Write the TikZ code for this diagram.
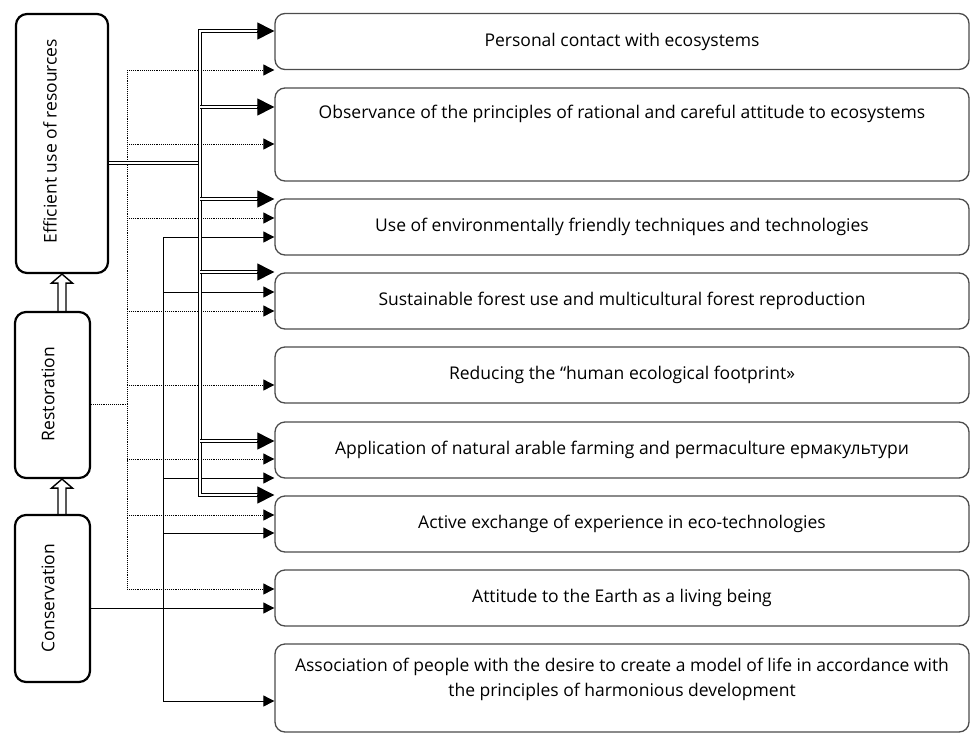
\documentclass[tikz,border=0pt]{standalone}
\usepackage{fontspec}
\setmainfont{Open Sans}
\usetikzlibrary{positioning, arrows.meta, calc}

\begin{document}
\begin{tikzpicture}[x=1pt, y=-1pt, font=\fontsize{17.5}{25}\selectfont,
  stage/.style={draw=black, line width=2.2pt, rounded corners=11pt, inner sep=0pt},
  item/.style={draw=black!70, line width=1.3pt, rounded corners=10pt, minimum width=694pt,
    minimum height=56pt, inner sep=0pt, align=center},
  dbl/.style={draw=black, double=white, double distance=2.4pt, line width=1pt},
  bigtip/.style={line width=1pt, -{Triangle[length=17pt, width=17pt]}},
  hollow/.style={line width=1.4pt, line join=miter, to path={
    ($(\tikztostart)+(-4,0)$) -- ($(\tikztotarget)+(-4,9)$) -- ($(\tikztotarget)+(-10.5,9)$)
    -- (\tikztotarget) -- ($(\tikztotarget)+(10.5,9)$) -- ($(\tikztotarget)+(4,9)$)
    -- ($(\tikztostart)+(4,0)$)}},
  dotarrow/.style={densely dotted, line width=0.9pt, -{Triangle[length=11pt, width=11pt]}},
  solidarrow/.style={line width=0.9pt, -{Triangle[length=11pt, width=11pt]}}]

\useasboundingbox (0,0) rectangle (972,734);

% left column: stages
\node[stage, minimum width=92pt, minimum height=259pt] (eff) at (62,143.5) {};
\node[rotate=90] (efftext) at (50,141) {Efficient use of resources};
\node[stage, minimum width=75pt, minimum height=166pt] (rest) at (52.5,395) {};
\node[rotate=90] (resttext) at (48,394) {Restoration};
\node[stage, minimum width=75pt, minimum height=167pt] (cons) at (52.5,598.5) {};
\node[rotate=90] (constext) at (48,598) {Conservation};

\draw[hollow] (eff.south |- rest.north) to (eff.south);
\draw[hollow] (eff.south |- cons.north) to (eff.south |- rest.south);

% right column: measures
\node[item] (b1) at (622,41.5) {Personal contact with ecosystems};
\node[item, minimum height=93pt] (b2) at (622,134.5) {};
\node (b2text) at (622,114)
  {Observance of the principles of rational and careful attitude to ecosystems};
\node[item] (b3) at (622,227) {Use of environmentally friendly techniques and technologies};
\node[item] (b4) at (622,301) {Sustainable forest use and multicultural forest reproduction};
\node[item] (b5) at (622,375) {Reducing the “human ecological footprint»};
\node[item] (b6) at (622,450) {Application of natural arable farming and permaculture ермакультури};
\node[item] (b7) at (622,524) {Active exchange of experience in eco-technologies};
\node[item] (b8) at (622,598) {Attitude to the Earth as a living being};
\node[item, minimum height=88pt] (b9) at (622,688) {};
\node[align=center] (b9text) at (622,679.5)
  {Association of people with the desire to create a model of life in accordance with\\
   the principles of harmonious development};

% bus lines
\coordinate (pbus) at (127,0);
\coordinate (sbus) at (163,0);
\coordinate (dbus) at (200,0);

% dotted: restoration
\coordinate (p1) at ($(b1.west)+(0,28.5)$);
\coordinate (p8) at ($(b8.west)+(0,-9)$);
\draw[densely dotted, line width=0.9pt] ($(rest.east)+(0,9)$) -- (pbus |- {$(rest.east)+(0,9)$});
\draw[densely dotted, line width=0.9pt] (pbus |- p1) -- (pbus |- p8);
\foreach \b/\dy in {b1/28.5, b2/9.5, b3/-9, b4/10, b5/10, b6/9, b7/-9, b8/-9}{
  \coordinate (p) at ($(\b.west)+(0,\dy)$);
  \draw[dotarrow] (pbus |- p) -- (p);
}

% solid: conservation
\draw[solidarrow] ($(cons.east)+(0,9.5)$) -- ($(b8.west)+(0,10)$);
\coordinate (s3) at ($(b3.west)+(0,10)$);
\coordinate (s9) at ($(b9.west)+(0,13)$);
\draw[solidarrow] (sbus |- s3) -- (s3);
\draw[solidarrow] (sbus |- s3) -- (sbus |- s9) -- (s9);
\foreach \b/\dy in {b4/-9, b6/28, b7/9}{
  \coordinate (s) at ($(\b.west)+(0,\dy)$);
  \draw[solidarrow] (sbus |- s) -- (s);
}

% double: efficient use of resources
\coordinate (d1) at ($(b1.west)+(0,-10.5)$);
\coordinate (d7) at ($(b7.west)+(0,-29)$);
\draw[dbl] ($(eff.east)+(0,19.5)$) -- (dbus |- {$(eff.east)+(0,19.5)$});
\draw[dbl, shorten <=16pt, shorten >=16pt] (d1) -- (dbus |- d1) -- (dbus |- d7) -- (d7);
\foreach \b/\dy in {b2/-27.5, b3/-28, b4/-29, b6/-9}{
  \coordinate (d) at ($(\b.west)+(0,\dy)$);
  \draw[dbl, shorten >=16pt] (dbus |- d) -- (d);
}
\foreach \b/\dy in {b1/-10.5, b2/-27.5, b3/-28, b4/-29, b6/-9, b7/-29}{
  \coordinate (d) at ($(\b.west)+(0,\dy)$);
  \draw[bigtip] ($(d)+(-17,0)$) -- (d);
}

\end{tikzpicture}
\end{document}
